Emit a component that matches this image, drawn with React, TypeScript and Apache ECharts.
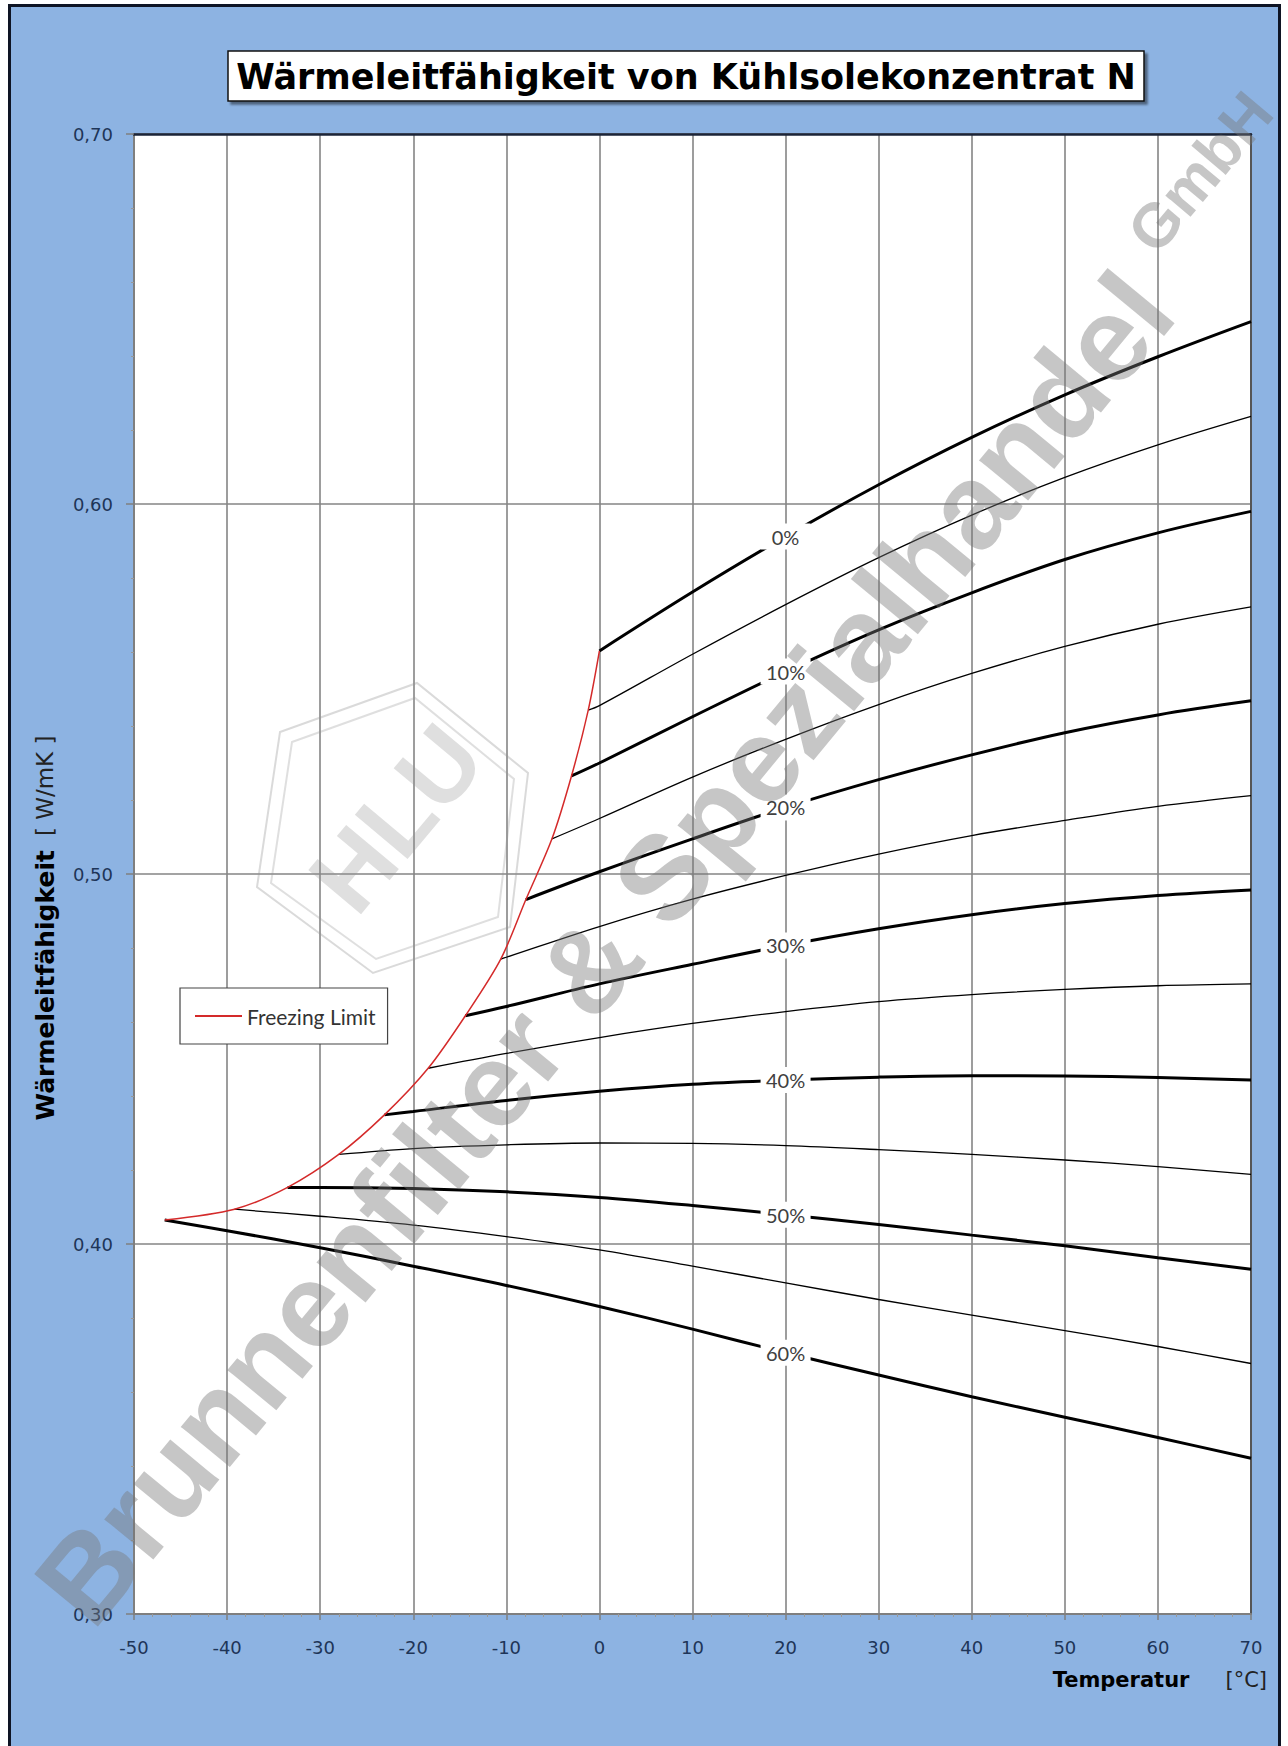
import React, { useEffect, useRef } from 'react';
import * as echarts from 'echarts';

// Concentration curves (Kühlsolekonzentrat N, % in water)
const concentrations = ['0%', '5%', '10%', '15%', '20%', '25%', '30%', '35%', '40%', '45%', '50%', '55%', '60%'];
const isThick = [true, false, true, false, true, false, true, false, true, false, true, false, true];

// Freezing limit: start point (temperature, conductivity) of every curve
const startTemps = [0, -1.2, -3, -5.1, -7.9, -10.6, -14.4, -18.4, -23.1, -28, -33.5, -39.2, -46.7];
const startValues = [0.5603, 0.5443, 0.5265, 0.5095, 0.4931, 0.477, 0.4617, 0.4475, 0.4349, 0.4242, 0.4153, 0.4094, 0.4065];

// Values at the grid temperatures (null = below freezing limit)
const gridTemps = [-40, -30, -20, -10, 0, 10, 20, 30, 40, 50, 60, 70];
const c00 = [null, null, null, null, null, 0.5762, 0.5912, 0.6052, 0.618, 0.6295, 0.6398, 0.6493];
const c05 = [null, null, null, null, 0.5455, 0.5594, 0.5728, 0.5855, 0.597, 0.6072, 0.616, 0.6237];
const c10 = [null, null, null, null, 0.53, 0.5425, 0.5547, 0.566, 0.576, 0.585, 0.5922, 0.598];
const c15 = [null, null, null, null, 0.515, 0.5262, 0.5364, 0.5458, 0.5542, 0.5615, 0.5675, 0.5722];
const c20 = [null, null, null, null, 0.5006, 0.5095, 0.518, 0.5255, 0.5322, 0.5382, 0.543, 0.5468];
const c25 = [null, null, null, 0.4775, 0.4858, 0.4932, 0.4996, 0.5054, 0.5104, 0.5145, 0.5183, 0.5212];
const c30 = [null, null, null, 0.4642, 0.4703, 0.4756, 0.4807, 0.4852, 0.489, 0.492, 0.4942, 0.4957];
const c35 = [null, null, null, 0.4515, 0.4558, 0.4596, 0.4628, 0.4655, 0.4674, 0.4688, 0.4698, 0.4703];
const c40 = [null, null, 0.4358, 0.4388, 0.4413, 0.4432, 0.4443, 0.4451, 0.4455, 0.4454, 0.445, 0.4443];
const c45 = [null, null, 0.4258, 0.4268, 0.4273, 0.4272, 0.4266, 0.4255, 0.4242, 0.4227, 0.4209, 0.4188];
const c50 = [null, 0.4153, 0.415, 0.4141, 0.4126, 0.4104, 0.4079, 0.4053, 0.4024, 0.3995, 0.3963, 0.3932];
const c55 = [null, 0.4075, 0.4051, 0.402, 0.3984, 0.394, 0.3895, 0.385, 0.3808, 0.3766, 0.3723, 0.3677];
const c60 = [0.4036, 0.399, 0.394, 0.3888, 0.3831, 0.377, 0.3706, 0.3646, 0.3587, 0.3532, 0.3477, 0.3421];
const curveValues = [c00, c05, c10, c15, c20, c25, c30, c35, c40, c45, c50, c55, c60];

const labelTemp = 20;
const xTicks = { min: -50, max: 70, interval: 10 };
const yTicks = { min: 0.3, max: 0.7, interval: 0.1 };

const FONT_AXIS = 'DejaVu Sans';
const FONT_CAL = 'Lato';

export default function App() {
  const ref = useRef<HTMLDivElement>(null);

  useEffect(() => {
    document.body.style.margin = '0';
    const chart = echarts.init(ref.current as HTMLDivElement, null, { renderer: 'svg' });

    const series: any[] = concentrations.map((name, i) => {
      const pts: [number, number][] = [[startTemps[i], startValues[i]]];
      gridTemps.forEach((t, k) => {
        const v = curveValues[i][k];
        if (v !== null && t > startTemps[i]) pts.push([t, v as number]);
      });
      const s: any = {
        name,
        type: 'line',
        data: pts,
        symbol: 'none',
        smooth: 0.35,
        silent: true,
        z: 3,
        lineStyle: { color: '#000', width: isThick[i] ? 3 : 1.3 },
      };
      if (isThick[i]) {
        const k = gridTemps.indexOf(labelTemp);
        s.markPoint = {
          silent: true,
          symbol: 'rect',
          symbolSize: [50, 26],
          itemStyle: { color: '#fff' },
          label: {
            show: true,
            position: 'inside',
            formatter: () => name,
            color: '#404040',
            fontFamily: FONT_CAL,
            fontSize: 20,
          },
          data: [{ coord: [labelTemp, curveValues[i][k]] }],
        };
      }
      return s;
    });

    const freezing = startTemps
      .map((t, i) => [t, startValues[i]] as [number, number])
      .sort((a, b) => a[0] - b[0]);

    series.push({
      name: 'Freezing Limit',
      type: 'line',
      data: freezing,
      symbol: 'none',
      showSymbol: false,
      smooth: 0.3,
      silent: true,
      z: 4,
      lineStyle: { color: '#d42a2a', width: 1.5 },
      itemStyle: { color: '#d42a2a' },
    });

    const grayAxis = '#7f7f7f';
    const option: any = {
      animation: false,
      backgroundColor: 'transparent',
      grid: { left: 134, top: 134, width: 1117, height: 1480, show: true, backgroundColor: '#fff', borderWidth: 0 },
      legend: {
        data: [{ name: 'Freezing Limit', icon: 'rect' }],
        left: 180,
        top: 988,
        backgroundColor: '#fff',
        borderColor: '#444',
        borderWidth: 1.2,
        padding: [17, 12, 17, 15],
        itemWidth: 47,
        itemHeight: 2,
        selectedMode: false,
        textStyle: { fontFamily: FONT_CAL, fontSize: 21, color: '#333', lineHeight: 22 },
      },
      xAxis: [
        {
          type: 'value',
          min: xTicks.min,
          max: xTicks.max,
          interval: xTicks.interval,
          position: 'bottom',
          axisLine: { show: true, onZero: false, lineStyle: { color: grayAxis, width: 2 } },
          axisTick: { show: true, length: 6, lineStyle: { color: grayAxis, width: 1.5 } },
          minorTick: { show: true, splitNumber: 5, length: 3, lineStyle: { color: '#999', width: 1 } },
          axisLabel: { margin: 24, color: '#1e3558', fontFamily: FONT_AXIS, fontSize: 18 },
          splitLine: { show: true, lineStyle: { color: '#858585', width: 1.6 } },
        },
        {
          type: 'value',
          min: xTicks.min,
          max: xTicks.max,
          position: 'top',
          axisLine: { show: true, onZero: false, lineStyle: { color: '#1b2438', width: 2.5 } },
          axisTick: { show: false },
          axisLabel: { show: false },
          splitLine: { show: false },
        },
      ],
      yAxis: [
        {
          type: 'value',
          min: yTicks.min,
          max: yTicks.max,
          interval: yTicks.interval,
          position: 'left',
          axisLine: { show: true, onZero: false, lineStyle: { color: grayAxis, width: 2 } },
          axisTick: { show: true, length: 8, lineStyle: { color: grayAxis, width: 1.5 } },
          minorTick: { show: true, splitNumber: 5, length: 3, lineStyle: { color: '#999', width: 1 } },
          axisLabel: {
            margin: 21,
            color: '#1e3558',
            fontFamily: FONT_AXIS,
            fontSize: 18,
            formatter: (v: number) => v.toFixed(2).replace('.', ','),
          },
          splitLine: { show: true, lineStyle: { color: '#858585', width: 1.6 } },
        },
        {
          type: 'value',
          min: yTicks.min,
          max: yTicks.max,
          position: 'right',
          axisLine: { show: true, onZero: false, lineStyle: { color: '#555', width: 2 } },
          axisTick: { show: false },
          axisLabel: { show: false },
          splitLine: { show: false },
        },
      ],
      graphic: {
        elements: [
          {
            type: 'rect',
            z: 50,
            shape: { x: 228, y: 51, width: 916, height: 50 },
            style: {
              fill: '#fff',
              stroke: '#111',
              lineWidth: 1.5,
              shadowColor: 'rgba(0,0,0,0.45)',
              shadowOffsetX: 3,
              shadowOffsetY: 3,
              shadowBlur: 2,
            },
          },
          {
            type: 'text',
            z: 51,
            x: 686,
            y: 77,
            style: {
              text: 'Wärmeleitfähigkeit von Kühlsolekonzentrat N',
              fill: '#000',
              font: 'bold 35px "DejaVu Sans"',
              align: 'center',
              verticalAlign: 'middle',
            },
          },
          {
            type: 'text',
            z: 51,
            x: 1267,
            y: 1680,
            style: {
              text: '{b|Temperatur}{s|}{n|[°C]}',
              align: 'right',
              verticalAlign: 'middle',
              rich: {
                b: { fontFamily: FONT_AXIS, fontWeight: 'bold', fontSize: 21, fill: '#000', color: '#000' },
                s: { width: 36 },
                n: { fontFamily: FONT_AXIS, fontSize: 21, fill: '#222', color: '#222' },
              },
            },
          },
          {
            type: 'text',
            z: 51,
            x: 45,
            y: 928,
            rotation: Math.PI / 2,
            style: {
              text: '{b|Wärmeleitfähigkeit}{s|}{n|[ W/mK ]}',
              align: 'center',
              verticalAlign: 'middle',
              rich: {
                b: { fontFamily: FONT_AXIS, fontWeight: 'bold', fontSize: 25, fill: '#000', color: '#000' },
                s: { width: 14 },
                n: { fontFamily: FONT_AXIS, fontSize: 23, fill: '#222', color: '#222' },
              },
            },
          },
          // HLU logo (watermark)
          {
            type: 'polygon',
            z: 60,
            silent: true,
            shape: { points: [[280, 732], [417, 683], [528, 773], [510, 927], [373, 973], [257, 887]] },
            style: { fill: 'none', stroke: 'rgba(150,150,150,0.35)', lineWidth: 2 },
          },
          {
            type: 'polygon',
            z: 60,
            silent: true,
            shape: { points: [[292, 742], [415, 698], [514, 779], [498, 917], [376, 959], [271, 883]] },
            style: { fill: 'none', stroke: 'rgba(150,150,150,0.3)', lineWidth: 2 },
          },
          {
            type: 'text',
            z: 60,
            silent: true,
            x: 396,
            y: 818,
            rotation: (50 * Math.PI) / 180,
            style: {
              text: 'HLU',
              font: 'bold 100px "Liberation Sans"',
              fill: 'rgba(150,150,150,0.3)',
              align: 'center',
              verticalAlign: 'middle',
            },
          },
          // Company watermark
          {
            type: 'text',
            z: 60,
            silent: true,
            x: 604,
            y: 948,
            rotation: (50.4 * Math.PI) / 180,
            style: {
              text: 'Brunnenfilter & Spezialhandel',
              font: 'bold 120px "Liberation Sans"',
              fill: 'rgba(120,120,120,0.42)',
              align: 'center',
              verticalAlign: 'middle',
            },
          },
          {
            type: 'text',
            z: 60,
            silent: true,
            x: 1200,
            y: 172,
            rotation: (50 * Math.PI) / 180,
            style: {
              text: 'GmbH',
              font: 'bold 62px "Liberation Sans"',
              fill: 'rgba(120,120,120,0.42)',
              align: 'center',
              verticalAlign: 'middle',
            },
          },
        ],
      },
      series,
    };

    chart.setOption(option);
    return () => chart.dispose();
  }, []);

  return (
    <div style={{ position: 'relative', width: 1288, height: 1746, overflow: 'hidden', background: '#fff' }}>
      <div
        style={{
          position: 'absolute',
          left: 8,
          top: 4,
          width: 1273,
          height: 1800,
          boxSizing: 'border-box',
          border: '3px solid #0e1424',
          background: '#8db3e2',
        }}
      />
      <div ref={ref} style={{ position: 'absolute', left: 0, top: 0, width: 1288, height: 1746 }} />
    </div>
  );
}
